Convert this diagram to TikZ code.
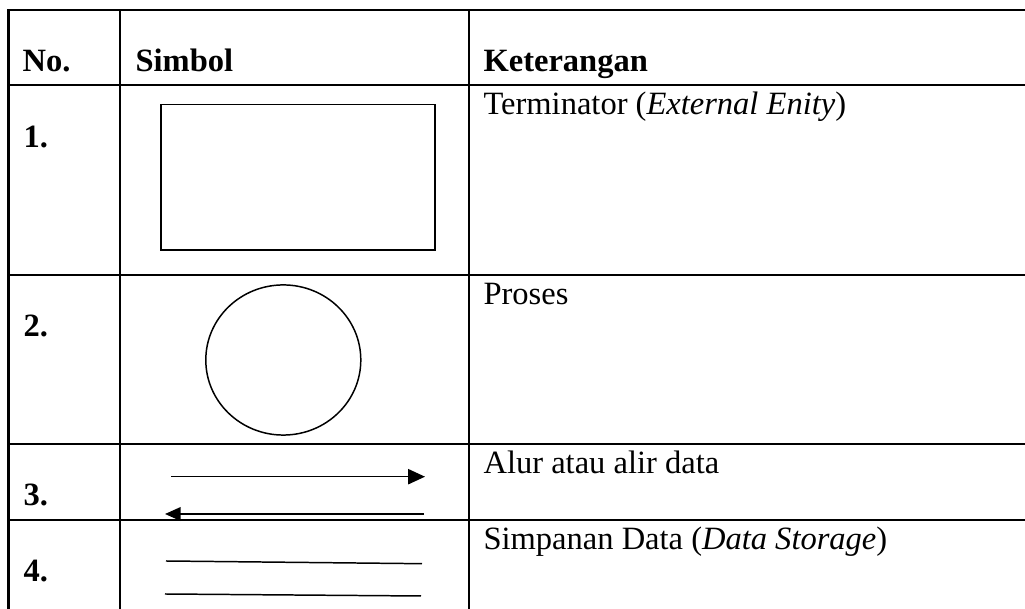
\documentclass[tikz,border=0pt]{standalone}
\usepackage{fontspec}
\setmainfont{Liberation Serif}
\usetikzlibrary{arrows.meta}

\begin{document}
\begin{tikzpicture}[x=0.369pt, y=-0.369pt,
    rule/.style={line width=0.8pt},
    sym/.style={line width=0.55pt},
    txt/.style={anchor=base west, inner sep=0pt, font=\fontsize{12}{14}\selectfont},
    num/.style={txt, font=\fontsize{12}{14}\selectfont\bfseries}]
    \useasboundingbox (0, 0) rectangle (1025, 609);

    % table rules
    \draw[rule] (8.5, 609) -- (8.5, 10) -- (1025, 10);
    \draw[rule] (120, 10) -- (120, 609);
    \draw[rule] (469, 10) -- (469, 609);
    \foreach \y in {85, 275, 444, 520}
        \draw[rule] (8.5, \y) -- (1025, \y);

    % header
    \node[num] (hno) at (22, 72) {No.};
    \node[num] (hsim) at (135, 72) {Simbol};
    \node[num] (hket) at (483, 72) {Keterangan};

    \node[num] (n1) at (23, 148) {1.};
    \node[num] (n2) at (23, 337) {2.};
    \node[num] (n3) at (23, 506) {3.};
    \node[num] (n4) at (23, 582) {4.};

    \node[txt] (k1) at (483, 115) {Terminator (\textit{External Enity})};
    \node[txt] (k2) at (483, 305) {Proses};
    \node[txt] (k3) at (483, 474) {Alur atau alir data};
    \node[txt] (k4) at (483, 550) {Simpanan Data (\textit{Data Storage})};

    % symbols
    \draw[sym] (161, 104.7) rectangle (435, 250);
    \draw[sym] (283.3, 360) ellipse (28.6pt and 27.7pt);

    \coordinate (fa) at (171, 476.7);
    \coordinate (fb) at (425, 476.7);
    \coordinate (ba) at (424, 514);
    \coordinate (bb) at (165, 514);
    \draw[sym, -{Triangle[length=6.2pt, width=5.6pt]}] (fa) -- (fb);
    \draw[sym, line width=0.75pt, -{Triangle[length=5.8pt, width=5pt]}] (ba) -- (bb);

    \draw[sym] (166, 561) -- (422, 563.7);
    \draw[sym] (165, 594) -- (421, 596);
\end{tikzpicture}
\end{document}
